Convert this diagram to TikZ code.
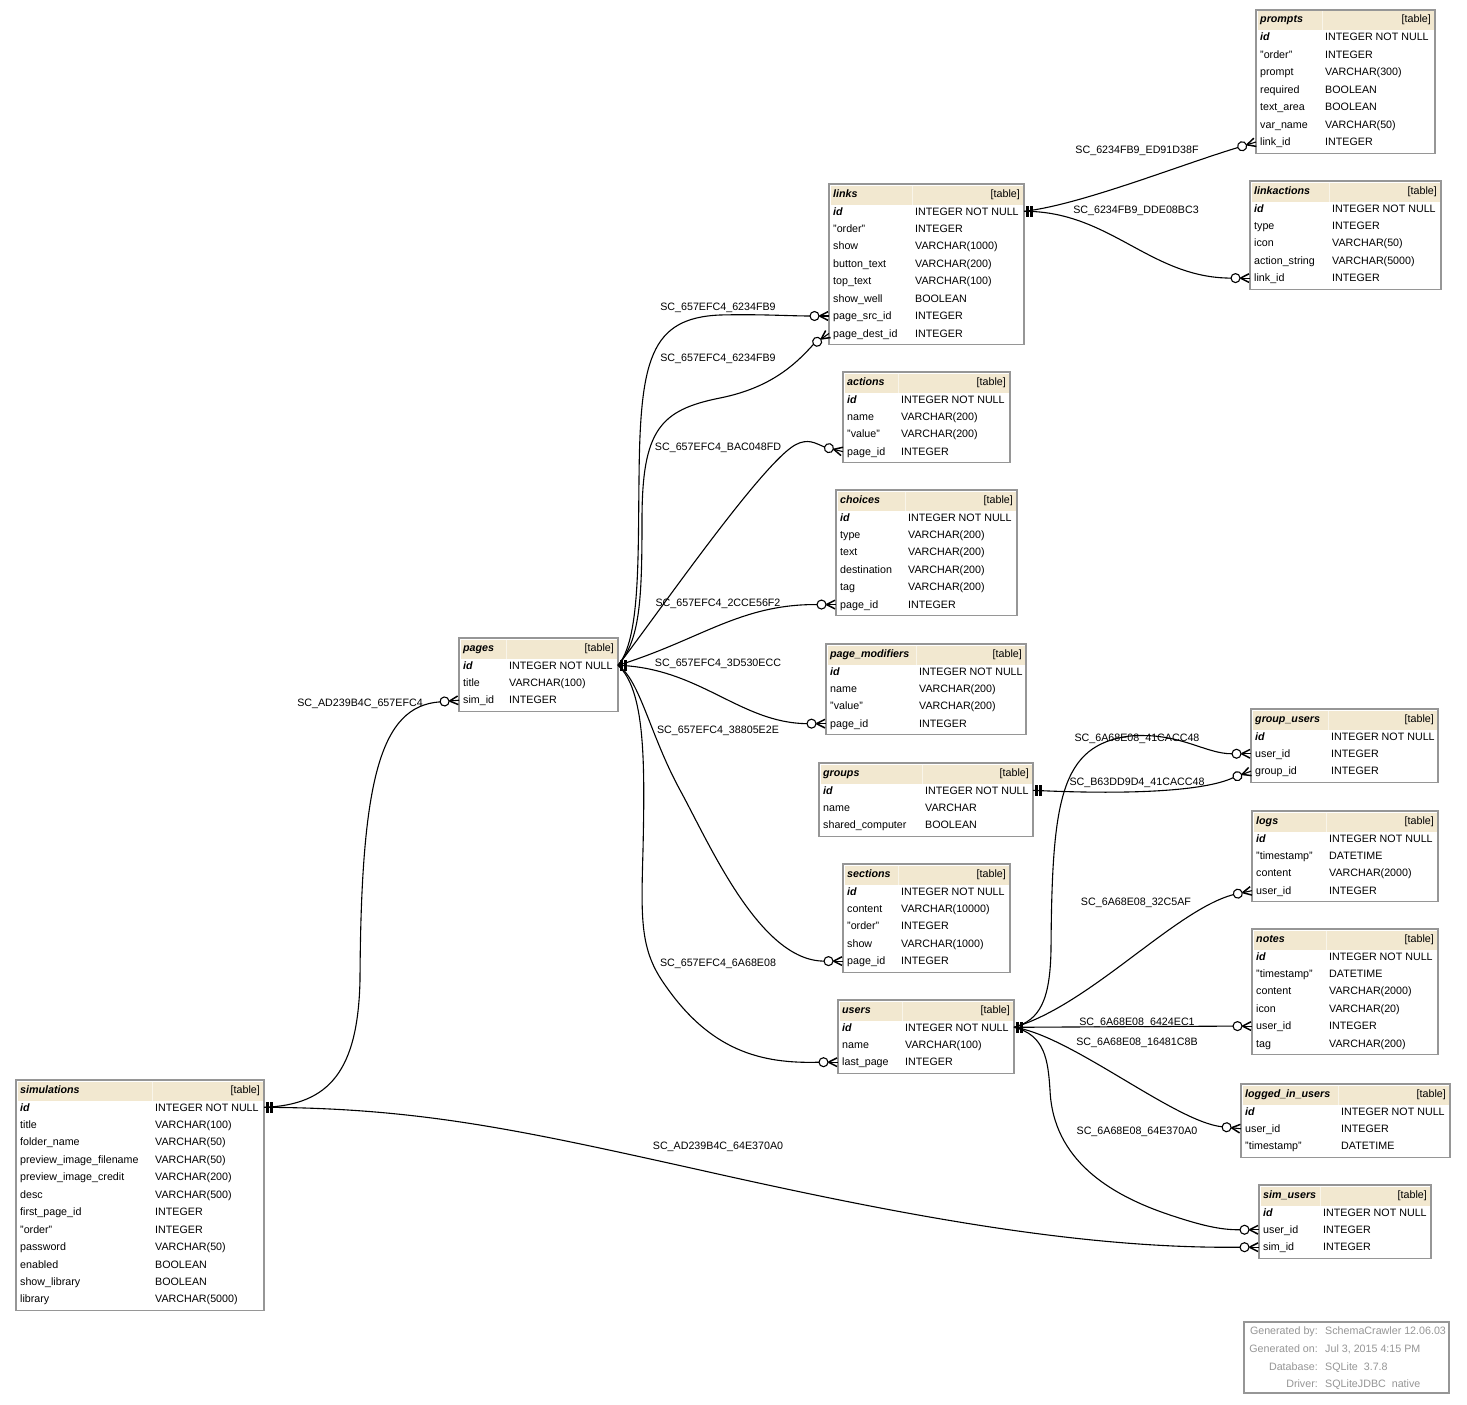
\documentclass[tikz,border=0pt]{standalone}
\usepackage{fontspec}
\setmainfont{Liberation Sans}
\usetikzlibrary{calc}
\definecolor{hdrfill}{RGB}{242,232,208}
\definecolor{tabline}{RGB}{150,150,150}
\definecolor{legtxt}{RGB}{150,150,150}
\newcommand{\tabfont}{\fontsize{10.7}{12}\selectfont}
\tikzset{
  txt/.style={inner sep=0pt, font=\tabfont},
  txtb/.style={inner sep=0pt, font=\tabfont\bfseries\itshape},
  tabborder/.style={draw=tabline, line width=1.2pt},
  edge/.style={draw=black, line width=1.1pt},
  fkline/.style={draw=black, line width=1.5pt},
  lbl/.style={inner sep=0pt, font=\tabfont, anchor=base},
  legt/.style={inner sep=0pt, font=\tabfont, text=legtxt},
}
% #1 id, #2 shown name, #3 L, #4 T, #5 R, #6 column-2 x, #7 rows, #8 rows list
\newcommand{\erdtab}[8]{%
  \pgfmathsetmacro\tabbot{#4+31+17.45*(#7-1)+7.5}%
  \fill[hdrfill] (#3+1.5,#4+1.5) rectangle (#5-1.5,#4+20.5);
  \draw[hdrfill!45!white, line width=0.5pt] (#6-3,#4+1.5) -- (#6-3,#4+20.5);
  \draw[tabborder] (#3,#4) rectangle (#5,\tabbot);
  \node[txtb, anchor=base west] (#1-h) at (#3+4,#4+13) {#2};
  \node[txt, anchor=base east] (#1-t) at (#5-4,#4+13) {[table]};
  \foreach \ca/\cb [count=\ri from 0] in {#8} {
    \pgfmathsetmacro\yb{#4+31+17.45*\ri}
    \ifnum\ri=0
      \node[txtb, anchor=base west] (#1-\ri-a) at (#3+4,\yb) {\ca};
    \else
      \node[txt, anchor=base west] (#1-\ri-a) at (#3+4,\yb) {\ca};
    \fi
    \node[txt, anchor=base west] (#1-\ri-b) at (#6,\yb) {\cb};
    \coordinate (#1-\ri-l) at (#3,\yb-3.7);
    \coordinate (#1-\ri-r) at (#5,\yb-3.7);
  }%
}
\newcommand{\pkm}[1]{%
  \begin{scope}[shift={(#1)}]
    \fill (2,-5.5) rectangle (4.7,5.5);
    \fill (6,-5.5) rectangle (8.7,5.5);
  \end{scope}}
\newcommand{\fkm}[2]{%
  \begin{scope}[shift={(#1)}, rotate=#2]
    \draw[fkline] (-9.5,0) -- (-1,4.3) (-9.5,0) -- (-1,-4.3);
    \draw[edge] (-9.5,0) -- (0,0);
    \draw[edge, fill=white] (-14.5,0) circle (4.5);
    \coordinate (#1-e) at (-19,0);
  \end{scope}}
\begin{document}
\begin{tikzpicture}[x=1pt, y=-1pt]
\useasboundingbox (0,0) rectangle (1467,1405);
\fill[white] (0,0) rectangle (1467,1405);

% ---------------- tables ----------------
\erdtab{prompts}{prompts}{1256}{10}{1435}{1325}{7}{id/INTEGER NOT NULL,"order"/INTEGER,prompt/VARCHAR(300),required/BOOLEAN,text\_area/BOOLEAN,var\_name/VARCHAR(50),link\_id/INTEGER}
\erdtab{linkactions}{linkactions}{1250}{181}{1441}{1332}{5}{id/INTEGER NOT NULL,type/INTEGER,icon/VARCHAR(50),action\_string/VARCHAR(5000),link\_id/INTEGER}
\erdtab{links}{links}{829}{184}{1024}{915}{8}{id/INTEGER NOT NULL,"order"/INTEGER,show/VARCHAR(1000),button\_text/VARCHAR(200),top\_text/VARCHAR(100),show\_well/BOOLEAN,page\_src\_id/INTEGER,page\_dest\_id/INTEGER}
\erdtab{actions}{actions}{843}{372}{1010}{901}{4}{id/INTEGER NOT NULL,name/VARCHAR(200),"value"/VARCHAR(200),page\_id/INTEGER}
\erdtab{choices}{choices}{836}{490}{1017}{908}{6}{id/INTEGER NOT NULL,type/VARCHAR(200),text/VARCHAR(200),destination/VARCHAR(200),tag/VARCHAR(200),page\_id/INTEGER}
\erdtab{pagemodifiers}{page\_modifiers}{826}{644}{1026}{919}{4}{id/INTEGER NOT NULL,name/VARCHAR(200),"value"/VARCHAR(200),page\_id/INTEGER}
\erdtab{groups}{groups}{819}{763}{1033}{925}{3}{id/INTEGER NOT NULL,name/VARCHAR,shared\_computer/BOOLEAN}
\erdtab{sections}{sections}{843}{864}{1010}{901}{5}{id/INTEGER NOT NULL,content/VARCHAR(10000),"order"/INTEGER,show/VARCHAR(1000),page\_id/INTEGER}
\erdtab{users}{users}{838}{1000}{1014}{905}{3}{id/INTEGER NOT NULL,name/VARCHAR(100),last\_page/INTEGER}
\erdtab{pages}{pages}{459}{638}{618}{509}{3}{id/INTEGER NOT NULL,title/VARCHAR(100),sim\_id/INTEGER}
\erdtab{simulations}{simulations}{16}{1080}{264}{155}{12}{id/INTEGER NOT NULL,title/VARCHAR(100),folder\_name/VARCHAR(50),preview\_image\_filename/VARCHAR(50),preview\_image\_credit/VARCHAR(200),desc/VARCHAR(500),first\_page\_id/INTEGER,"order"/INTEGER,password/VARCHAR(50),enabled/BOOLEAN,show\_library/BOOLEAN,library/VARCHAR(5000)}
\erdtab{groupusers}{group\_users}{1251}{709}{1438}{1331}{3}{id/INTEGER NOT NULL,user\_id/INTEGER,group\_id/INTEGER}
\erdtab{logs}{logs}{1252}{811}{1438}{1329}{4}{id/INTEGER NOT NULL,"timestamp"/DATETIME,content/VARCHAR(2000),user\_id/INTEGER}
\erdtab{notes}{notes}{1252}{929}{1438}{1329}{6}{id/INTEGER NOT NULL,"timestamp"/DATETIME,content/VARCHAR(2000),icon/VARCHAR(20),user\_id/INTEGER,tag/VARCHAR(200)}
\erdtab{loggedinusers}{logged\_in\_users}{1241}{1084}{1450}{1341}{3}{id/INTEGER NOT NULL,user\_id/INTEGER,"timestamp"/DATETIME}
\erdtab{simusers}{sim\_users}{1259}{1185}{1431}{1323}{3}{id/INTEGER NOT NULL,user\_id/INTEGER,sim\_id/INTEGER}

% ---------------- foreign key ends ----------------
\fkm{prompts-6-l}{17}
\fkm{linkactions-4-l}{0}
\fkm{links-6-l}{0}
\fkm{links-7-l}{35}
\fkm{actions-3-l}{-14}
\fkm{choices-5-l}{0}
\fkm{pagemodifiers-3-l}{0}
\fkm{sections-4-l}{0}
\fkm{users-2-l}{0}
\fkm{pages-2-l}{5}
\fkm{simusers-2-l}{0}
\fkm{groupusers-2-l}{20}
\fkm{groupusers-1-l}{0}
\fkm{logs-3-l}{12}
\fkm{notes-4-l}{0}
\fkm{loggedinusers-1-l}{-6}
\fkm{simusers-1-l}{0}

% ---------------- connectors ----------------
\draw[edge] (links-0-r) .. controls (1080,205) and (1180,165) .. (prompts-6-l-e);
\draw[edge] (links-0-r) .. controls (1110,211) and (1150,278) .. (linkactions-4-l-e);
\draw[edge] (pages-0-r) .. controls (640,640) and (638,560) .. (639,480) .. controls (640,360) and (650,318) .. (720,315) .. controls (760,314) and (790,316) .. (links-6-l-e);
\draw[edge] (pages-0-r) .. controls (640,640) and (642,600) .. (642,520) .. controls (642,430) and (660,410) .. (720,398) .. controls (770,388) and (795,365) .. (links-7-l-e);
\draw[edge] (pages-0-r) .. controls (650,625) and (760,465) .. (795,445) .. controls (808,438) and (815,443) .. (actions-3-l-e);
\draw[edge] (pages-0-r) .. controls (700,640) and (740,604) .. (choices-5-l-e);
\draw[edge] (pages-0-r) .. controls (700,668) and (740,723) .. (pagemodifiers-3-l-e);
\draw[edge] (pages-0-r) .. controls (640,680) and (650,735) .. (680,790) .. controls (710,845) and (760,961) .. (sections-4-l-e);
\draw[edge] (pages-0-r) .. controls (645,690) and (645,760) .. (643,850) .. controls (641,920) and (640,950) .. (665,985) .. controls (710,1050) and (760,1064) .. (users-2-l-e);
\draw[edge] (simulations-0-r) .. controls (330,1105) and (358,1070) .. (360,980) .. controls (361,780) and (380,706) .. (pages-2-l-e);
\draw[edge] (simulations-0-r) .. controls (420,1108) and (520,1130) .. (700,1170) .. controls (900,1215) and (1080,1249) .. (simusers-2-l-e);
\draw[edge] (groups-0-r) .. controls (1130,795) and (1205,791) .. (groupusers-2-l-e);
\draw[edge] (users-0-r) .. controls (1040,1020) and (1050,1000) .. (1051,950) .. controls (1052,800) and (1060,745) .. (1130,736) .. controls (1180,732) and (1205,754) .. (groupusers-1-l-e);
\draw[edge] (users-0-r) .. controls (1090,1005) and (1175,910) .. (logs-3-l-e);
\draw[edge] (users-0-r) -- (notes-4-l-e);
\draw[edge] (users-0-r) .. controls (1070,1035) and (1175,1122) .. (loggedinusers-1-l-e);
\draw[edge] (users-0-r) .. controls (1045,1035) and (1048,1060) .. (1050,1090) .. controls (1053,1160) and (1110,1195) .. (1170,1215) .. controls (1200,1225) and (1220,1230) .. (simusers-1-l-e);

% ---------------- primary key ends ----------------
\pkm{links-0-r}
\pkm{pages-0-r}
\pkm{simulations-0-r}
\pkm{groups-0-r}
\pkm{users-0-r}

% ---------------- connector labels ----------------
\node[lbl] (c1) at (1137,153.8) {SC\_6234FB9\_ED91D38F};
\node[lbl] (c2) at (1136,213.8) {SC\_6234FB9\_DDE08BC3};
\node[lbl] (c3) at (718,310.8) {SC\_657EFC4\_6234FB9};
\node[lbl] (c4) at (718,361.8) {SC\_657EFC4\_6234FB9};
\node[lbl] (c5) at (718,450.8) {SC\_657EFC4\_BAC048FD};
\node[lbl] (c6) at (718,606.8) {SC\_657EFC4\_2CCE56F2};
\node[lbl] (c7) at (718,666.8) {SC\_657EFC4\_3D530ECC};
\node[lbl] (c8) at (718,733.8) {SC\_657EFC4\_38805E2E};
\node[lbl] (c9) at (718,966.8) {SC\_657EFC4\_6A68E08};
\node[lbl] (c10) at (360,706.8) {SC\_AD239B4C\_657EFC4};
\node[lbl] (c11) at (718,1149.8) {SC\_AD239B4C\_64E370A0};
\node[lbl] (c12) at (1137,741.8) {SC\_6A68E08\_41CACC48};
\node[lbl] (c13) at (1137,785.8) {SC\_B63DD9D4\_41CACC48};
\node[lbl] (c14) at (1136,905.8) {SC\_6A68E08\_32C5AF};
\node[lbl] (c15) at (1137,1025.3) {SC\_6A68E08\_6424EC1};
\node[lbl] (c16) at (1137,1045.8) {SC\_6A68E08\_16481C8B};
\node[lbl] (c17) at (1137,1134.8) {SC\_6A68E08\_64E370A0};

% ---------------- legend ----------------
\draw[tabborder] (1244,1322) rectangle (1449,1393);
\node[legt, anchor=base east] (g1a) at (1318,1334.8) {Generated by:};
\node[legt, anchor=base west] (g1b) at (1325,1334.8) {SchemaCrawler 12.06.03};
\node[legt, anchor=base east] (g2a) at (1318,1352.8) {Generated on:};
\node[legt, anchor=base west] (g2b) at (1325,1352.8) {Jul 3, 2015 4:15 PM};
\node[legt, anchor=base east] (g3a) at (1318,1370.8) {Database:};
\node[legt, anchor=base west] (g3b) at (1325,1370.8) {SQLite\ \ 3.7.8};
\node[legt, anchor=base east] (g4a) at (1318,1387.8) {Driver:};
\node[legt, anchor=base west] (g4b) at (1325,1387.8) {SQLiteJDBC\ \ native};
\end{tikzpicture}
\end{document}
